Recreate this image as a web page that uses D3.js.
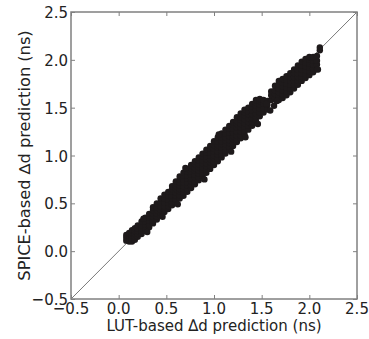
<!DOCTYPE html>
<html>
<head>
<meta charset="utf-8">
<script src="https://cdn.jsdelivr.net/npm/d3@7"></script>
<style>
  body { margin: 0; background: #fff; }
  svg text { font-family: "DejaVu Sans", sans-serif; fill: #222; }
</style>
</head>
<body>
<div id="chart"></div>
<script>
// axis ticks
const xTicks = [-0.5, 0.0, 0.5, 1.0, 1.5, 2.0, 2.5];
const yTicks = [-0.5, 0.0, 0.5, 1.0, 1.5, 2.0, 2.5];

// scatter columns: [LUT value, [SPICE values...]]
const lowerBody = [
  [0.08, [0.11, 0.14, 0.17]],
  [0.11, [0.10, 0.13, 0.16, 0.19]],
  [0.14, [0.10, 0.13, 0.16, 0.19, 0.22]],
  [0.17, [0.12, 0.15, 0.18, 0.21, 0.24]],
  [0.20, [0.15, 0.18, 0.21, 0.24, 0.27]],
  [0.24, [0.18, 0.21, 0.24, 0.27, 0.31]],
  [0.28, [0.21, 0.24, 0.28, 0.31, 0.35]],
  [0.32, [0.25, 0.28, 0.32, 0.35, 0.39]],
  [0.36, [0.29, 0.32, 0.36, 0.39, 0.43, 0.46]],
  [0.40, [0.33, 0.36, 0.39, 0.43, 0.46, 0.50]],
  [0.44, [0.37, 0.40, 0.43, 0.47, 0.51, 0.55]],
  [0.48, [0.41, 0.44, 0.47, 0.51, 0.55, 0.59]],
  [0.52, [0.44, 0.47, 0.51, 0.54, 0.58, 0.62]]
];

const mainBody = [
  [0.56, [0.48, 0.51, 0.55, 0.58, 0.62, 0.65, 0.68]],
  [0.60, [0.51, 0.54, 0.58, 0.61, 0.65, 0.68, 0.71, 0.73]],
  [0.64, [0.55, 0.58, 0.62, 0.65, 0.69, 0.72, 0.75, 0.78]],
  [0.68, [0.58, 0.61, 0.65, 0.68, 0.72, 0.75, 0.79, 0.82]],
  [0.72, [0.62, 0.65, 0.69, 0.72, 0.76, 0.79, 0.83, 0.86]],
  [0.76, [0.66, 0.69, 0.73, 0.76, 0.80, 0.83, 0.87, 0.90]],
  [0.80, [0.70, 0.73, 0.77, 0.80, 0.84, 0.87, 0.91, 0.94]],
  [0.84, [0.74, 0.77, 0.81, 0.84, 0.88, 0.91, 0.95, 0.98]],
  [0.88, [0.78, 0.81, 0.85, 0.88, 0.92, 0.95, 0.99, 1.02]],
  [0.92, [0.82, 0.85, 0.89, 0.92, 0.96, 0.99, 1.03, 1.06]],
  [0.96, [0.86, 0.89, 0.93, 0.96, 1.00, 1.03, 1.07, 1.10]],
  [1.00, [0.90, 0.93, 0.97, 1.00, 1.04, 1.07, 1.11, 1.15]],
  [1.04, [0.94, 0.97, 1.01, 1.04, 1.08, 1.11, 1.15, 1.19]],
  [1.08, [0.98, 1.01, 1.05, 1.08, 1.12, 1.15, 1.19, 1.23]],
  [1.12, [1.02, 1.05, 1.09, 1.12, 1.16, 1.19, 1.23, 1.27]],
  [1.16, [1.06, 1.09, 1.13, 1.16, 1.20, 1.24, 1.28, 1.31]],
  [1.20, [1.10, 1.13, 1.17, 1.20, 1.24, 1.28, 1.32, 1.35]],
  [1.24, [1.14, 1.17, 1.21, 1.25, 1.29, 1.33, 1.36, 1.40]],
  [1.28, [1.18, 1.21, 1.25, 1.29, 1.33, 1.37, 1.40, 1.44]],
  [1.32, [1.22, 1.26, 1.30, 1.34, 1.38, 1.42, 1.45, 1.48]],
  [1.36, [1.27, 1.31, 1.35, 1.39, 1.43, 1.46, 1.50]],
  [1.40, [1.31, 1.35, 1.39, 1.43, 1.47, 1.51, 1.54]],
  [1.44, [1.36, 1.40, 1.44, 1.48, 1.52, 1.55, 1.58]],
  [1.48, [1.41, 1.45, 1.49, 1.53, 1.57, 1.59]],
  [1.52, [1.45, 1.49, 1.54, 1.58]],
  [1.56, [1.48, 1.53, 1.57]]
];

// ragged points along the band edges
const edgePoints = [
  [0.26, [0.34]], [0.30, [0.20]], [0.46, [0.36]], [0.62, [0.49]], [0.70, [0.87]],
  [0.90, [0.75]], [1.05, [1.22]], [1.18, [1.04]], [1.33, [1.19]], [1.46, [1.33]]
];

const upperCluster = [
  [1.60, [1.58, 1.63, 1.67]],
  [1.64, [1.60, 1.64, 1.68, 1.73]],
  [1.68, [1.58, 1.62, 1.66, 1.70, 1.74, 1.78]],
  [1.72, [1.60, 1.64, 1.68, 1.72, 1.76, 1.80]],
  [1.76, [1.63, 1.67, 1.71, 1.75, 1.79, 1.83]],
  [1.80, [1.66, 1.70, 1.74, 1.78, 1.82, 1.86]],
  [1.84, [1.70, 1.74, 1.78, 1.82, 1.86, 1.90]],
  [1.88, [1.74, 1.78, 1.82, 1.86, 1.90, 1.94]],
  [1.92, [1.78, 1.82, 1.86, 1.90, 1.94, 1.98]],
  [1.96, [1.81, 1.85, 1.89, 1.93, 1.97, 2.01]],
  [2.00, [1.84, 1.88, 1.92, 1.96, 2.00, 2.03]],
  [2.04, [1.87, 1.91, 1.95, 1.99, 2.03]],
  [2.08, [1.90, 1.95, 1.99, 2.04]],
  [2.11, [2.10, 2.13]]
];

const strays = [
  [1.55, [1.54]], [1.59, [1.47]], [1.63, [1.52]], [1.66, [1.57]], [2.09, [1.90]]
];

const points = [...lowerBody, ...mainBody, ...edgePoints, ...upperCluster, ...strays]
  .flatMap(([x, ys]) => ys.map(y => ({ x, y })));

const width = 369;
const height = 339;
const marginLeft = 71;
const marginRight = 12;
const marginTop = 12;
const marginBottom = 40;

const svg = d3.select('#chart')
  .append('svg')
  .attr('width', width)
  .attr('height', height);

const x = d3.scaleLinear().domain([-0.5, 2.5]).range([marginLeft, width - marginRight]);
const y = d3.scaleLinear().domain([-0.5, 2.5]).range([height - marginBottom, marginTop]);

const axisColor = '#808080';
const fontSize = 15;
const stretch = 1.08; // text in the picture is a little taller than wide

// diagonal y = x
svg.append('line')
  .attr('x1', x(-0.5)).attr('y1', y(-0.5))
  .attr('x2', x(2.5)).attr('y2', y(2.5))
  .attr('stroke', '#7a7a7a')
  .attr('stroke-width', 1);

// scatter
svg.append('g')
  .attr('fill', '#1e1a1b')
  .selectAll('circle')
  .data(points)
  .enter().append('circle')
  .attr('cx', d => x(d.x))
  .attr('cy', d => y(d.y))
  .attr('r', 3.2);

// inward ticks on all four sides
svg.append('g')
  .attr('transform', `translate(0,${height - marginBottom})`)
  .call(d3.axisBottom(x).tickValues(xTicks).tickFormat('').tickSize(-4))
  .call(g => g.select('.domain').remove())
  .call(g => g.selectAll('.tick line').attr('stroke', axisColor));

svg.append('g')
  .attr('transform', `translate(${marginLeft},0)`)
  .call(d3.axisLeft(y).tickValues(yTicks).tickFormat('').tickSize(-4))
  .call(g => g.select('.domain').remove())
  .call(g => g.selectAll('.tick line').attr('stroke', axisColor));

svg.append('g')
  .attr('transform', `translate(0,${marginTop})`)
  .call(d3.axisTop(x).tickValues(xTicks).tickFormat('').tickSize(-4))
  .call(g => g.select('.domain').remove())
  .call(g => g.selectAll('.tick line').attr('stroke', axisColor));

svg.append('g')
  .attr('transform', `translate(${width - marginRight},0)`)
  .call(d3.axisRight(y).tickValues(yTicks).tickFormat('').tickSize(-4))
  .call(g => g.select('.domain').remove())
  .call(g => g.selectAll('.tick line').attr('stroke', axisColor));

// frame
svg.append('rect')
  .attr('x', marginLeft).attr('y', marginTop)
  .attr('width', width - marginLeft - marginRight)
  .attr('height', height - marginTop - marginBottom)
  .attr('fill', 'none')
  .attr('stroke', axisColor)
  .attr('stroke-width', 1.5);

// tick labels
const fmt = d3.format('.1f');
const tickFmt = d => fmt(d).replace('-', '\u2212');

svg.append('g')
  .selectAll('text')
  .data(xTicks)
  .enter().append('text')
  .attr('transform', d => `translate(${x(d)},${height - marginBottom + 15}) scale(1,${stretch})`)
  .attr('text-anchor', 'middle')
  .attr('font-size', fontSize)
  .text(tickFmt);

svg.append('g')
  .selectAll('text')
  .data(yTicks)
  .enter().append('text')
  .attr('transform', d => `translate(${marginLeft - 3},${y(d) + 6}) scale(1,${stretch})`)
  .attr('text-anchor', 'end')
  .attr('font-size', fontSize)
  .text(tickFmt);

// axis labels
svg.append('text')
  .attr('transform', `translate(${(marginLeft + width - marginRight) / 2},${height - 8}) scale(1,${stretch})`)
  .attr('text-anchor', 'middle')
  .attr('font-size', fontSize)
  .text('LUT-based \u2206d prediction (ns)');

svg.append('text')
  .attr('transform', `translate(30,${(marginTop + height - marginBottom) / 2}) scale(1,${stretch}) rotate(-90)`)
  .attr('text-anchor', 'middle')
  .attr('font-size', fontSize)
  .text('SPICE-based \u2206d prediction (ns)');
</script>
</body>
</html>
